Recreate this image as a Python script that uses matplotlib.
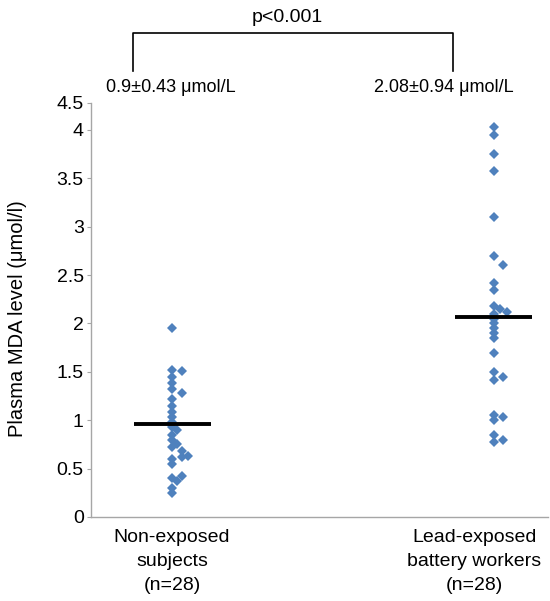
import matplotlib
matplotlib.use("Agg")
import matplotlib.pyplot as plt
import numpy as np

plt.rcParams['font.family'] = ['Liberation Sans', 'DejaVu Sans']

categories = ["Non-exposed\nsubjects\n(n=28)", "Lead-exposed\nbattery workers\n(n=28)"]
group_x = [1.0, 2.0]

non_exposed = [1.95, 1.52, 1.51, 1.45, 1.38, 1.32, 1.28, 1.22, 1.15, 1.08,
               1.03, 0.98, 0.93, 0.90, 0.85, 0.80, 0.75, 0.72, 0.68, 0.63,
               0.62, 0.60, 0.55, 0.42, 0.40, 0.37, 0.30, 0.25]
non_exposed_jitter = [0, 0, 0.03, 0, 0, 0, 0.03, 0, 0, 0,
                      0, 0, 0, 0.015, 0, 0, 0.015, 0, 0.03, 0.05,
                      0.03, 0, 0, 0.03, 0, 0.015, 0, 0]

exposed = [4.03, 3.95, 3.75, 3.58, 3.10, 2.70, 2.60, 2.42, 2.35, 2.18,
           2.15, 2.12, 2.10, 2.05, 2.00, 1.95, 1.90, 1.85, 1.70, 1.50,
           1.45, 1.42, 1.05, 1.03, 1.00, 0.85, 0.80, 0.78]
exposed_jitter = [0, 0, 0, 0, 0, 0, 0.03, 0, 0, 0,
                  0.02, 0.04, 0, 0, 0, 0, 0, 0, 0, 0,
                  0.03, 0, 0, 0.03, 0, 0, 0.03, 0]

means = [0.96, 2.07]
mean_labels = ["0.9\u00b10.43 \u03bcmol/L", "2.08\u00b10.94 \u03bcmol/L"]
p_label = "p<0.001"

yticks = [0, 0.5, 1, 1.5, 2, 2.5, 3, 3.5, 4]
ytick_labels = ["0", "0.5", "1", "1.5", "2", "2.5", "3", "3.5", "4"]
ytop = 4.28
ytop_label = "4.5"

fig = plt.figure(figsize=(5.5, 6.01), dpi=100)
ax = fig.add_axes([0.165, 0.1398, 0.832, 0.689])

blue = "#4F81BD"
ax.plot(np.array(group_x[0]) + np.array(non_exposed_jitter), non_exposed,
        'D', color=blue, ms=4.8, mew=0, zorder=3)
ax.plot(np.array(group_x[1]) + np.array(exposed_jitter), exposed,
        'D', color=blue, ms=4.8, mew=0, zorder=3)

for gx, m in zip(group_x, means):
    ax.plot([gx - 0.12, gx + 0.12], [m, m], color='black', lw=2.8, zorder=4,
            solid_capstyle='butt')

ax.set_xlim(0.747, 2.17)
ax.set_ylim(0, ytop)
ax.set_yticks(yticks + [ytop])
ax.set_yticklabels(ytick_labels + [ytop_label])
ax.set_xticks([])
for s in ['top', 'right']:
    ax.spines[s].set_visible(False)
for s in ['left', 'bottom']:
    ax.spines[s].set_color('#A6A6A6')
    ax.spines[s].set_linewidth(1.0)
ax.tick_params(axis='y', length=3, color='#A6A6A6', labelsize=14, pad=2)

fig.text(18/550, 1 - 319/601, "Plasma MDA level (\u03bcmol/l)", rotation=90,
         ha='center', va='center', fontsize=14.5)

# category labels
label_x = [1.0, 1.94]
for lx, c in zip(label_x, categories):
    ax.text(lx, -0.125, c, ha='center', va='top', fontsize=14,
            transform=ax.transData, linespacing=1.55, clip_on=False)

# bracket and annotations (figure coords)
fig.lines.append(plt.Line2D([133/550, 133/550, 453/550, 453/550],
                            [1-71/601, 1-33/601, 1-33/601, 1-71/601],
                            color='black', lw=1.2, transform=fig.transFigure))
fig.text(287/550, 1-17/601, p_label, ha='center', va='center', fontsize=14)
fig.text(171/550, 1-88/601, mean_labels[0], ha='center', va='center', fontsize=13)
fig.text(444/550, 1-88/601, mean_labels[1], ha='center', va='center', fontsize=13)

fig.savefig("out.png", dpi=100)
